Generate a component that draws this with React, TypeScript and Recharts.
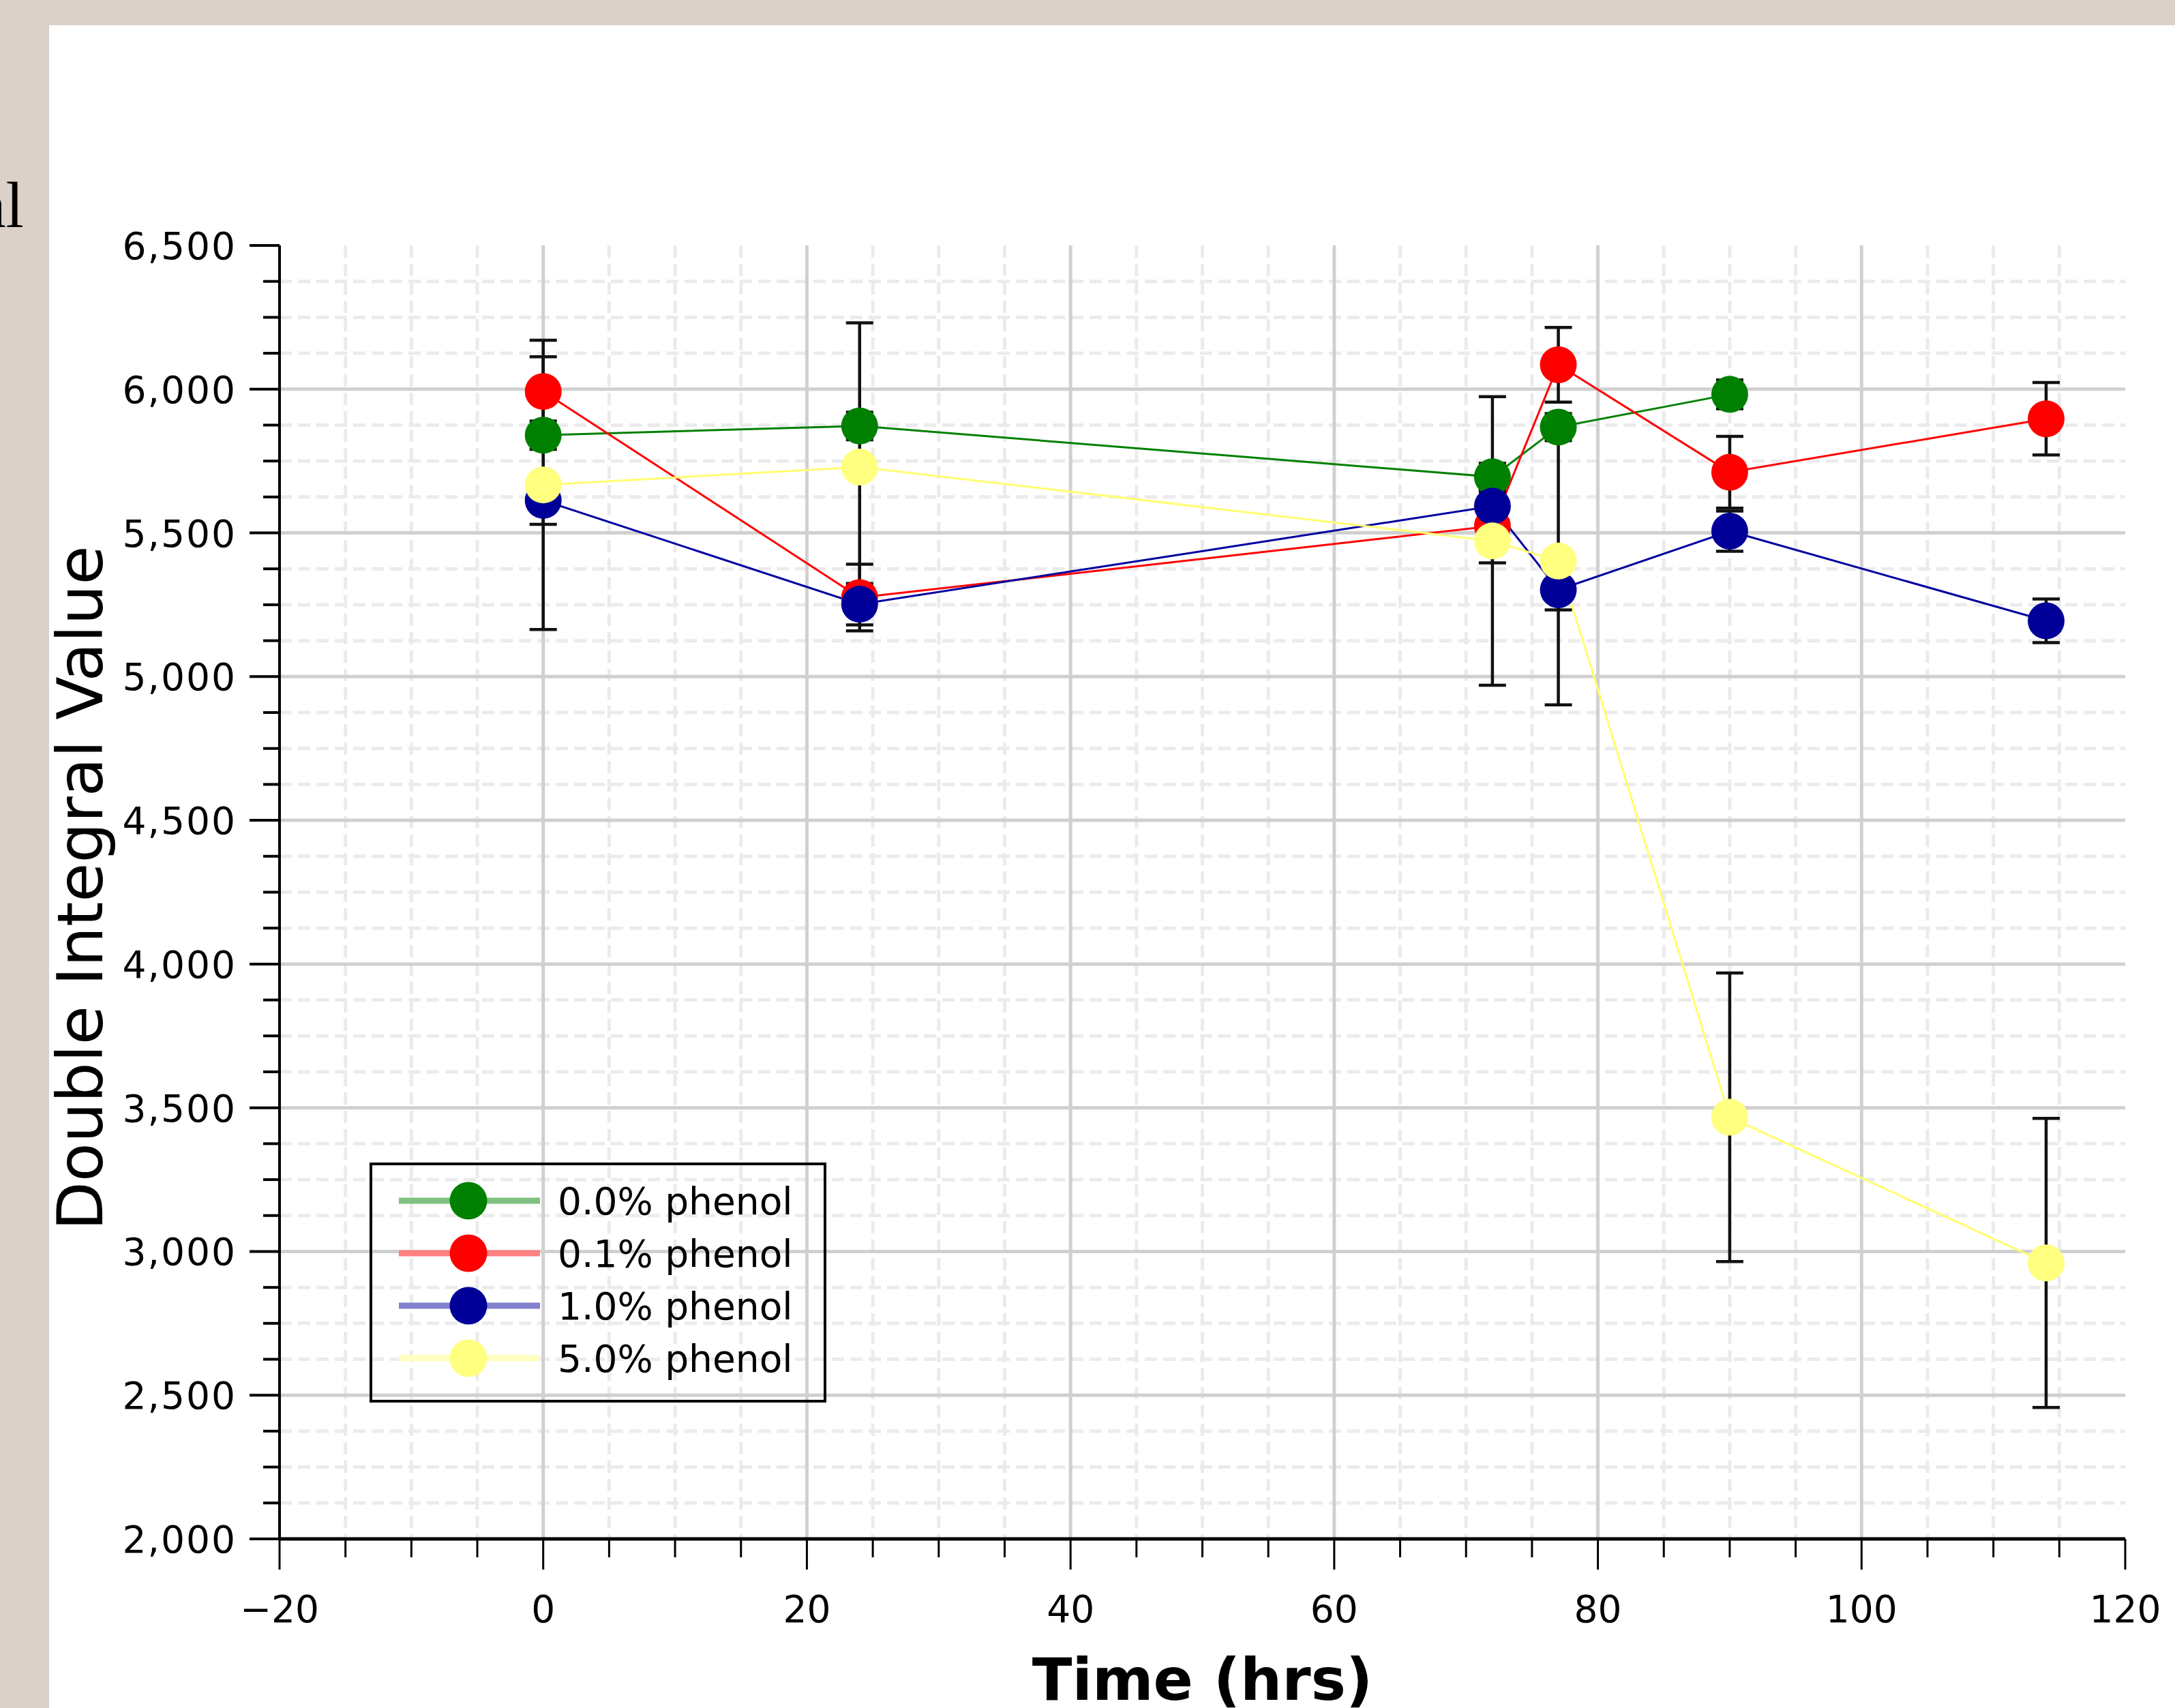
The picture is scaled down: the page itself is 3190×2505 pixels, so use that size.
import * as React from 'react';
import {
  LineChart,
  Line,
  XAxis,
  YAxis,
  CartesianGrid,
  ErrorBar,
  Legend
} from 'recharts';

// sampling times (hrs)
const hours = [0, 24, 72, 77, 90, 114];

// double integral values, one list per phenol level
const phenol00 = [5840, 5872, 5695, 5868, 5982];
const phenol01 = [5992, 5275, 5524, 6085, 5711, 5897];
const phenol10 = [5613, 5252, 5593, 5302, 5506, 5194];
const phenol50 = [5667, 5729, 5472, 5402, 3467, 2960];

// error bar half-lengths
const err00 = [49, 48, 47, 47, 50];
const err01 = [121, 116, 128, 130, 125, 126];
const err10 = [83, 72, 50, 70, 70, 76];
const err50 = [503, 502, 502, 500, 502, 503];

const seriesNames = ['0.0% phenol', '0.1% phenol', '1.0% phenol', '5.0% phenol'];

// axis ticks
const yMajor = [2000, 2500, 3000, 3500, 4000, 4500, 5000, 5500, 6000, 6500];
const yMinor = [
  2125, 2250, 2375, 2625, 2750, 2875, 3125, 3250, 3375, 3625, 3750, 3875,
  4125, 4250, 4375, 4625, 4750, 4875, 5125, 5250, 5375, 5625, 5750, 5875,
  6125, 6250, 6375
];
const xMajor = [-20, 0, 20, 40, 60, 80, 100, 120];
const xMinor = [
  -15, -10, -5, 5, 10, 15, 25, 30, 35, 45, 50, 55, 65, 70, 75, 85, 90, 95,
  105, 110, 115
];

const dotColors = ['#008000', '#ff0000', '#000099', '#ffff80'];
const lineColors = ['#008000', '#ff0000', '#0000a0', '#ffff70'];
const legendLineColors = ['#80c080', '#ff8080', '#8080cc', '#ffffc0'];

const FONT = '"DejaVu Sans", Verdana, sans-serif';

const build = (values: number[], errs: number[]) =>
  values.map((v, i) => ({ t: hours[i], v, e: errs[i] }));

const series = [
  build(phenol00, err00),
  build(phenol01, err01),
  build(phenol10, err10),
  build(phenol50, err50)
];

const sortNum = (a: number, b: number) => a - b;
const yTicks = [...yMajor, ...yMinor].sort(sortNum);
const xTicks = [...xMajor, ...xMinor].sort(sortNum);

const YTick = (props: any) => {
  const { x, y, payload } = props;
  const v = payload.value;
  const major = v % 500 === 0;
  return (
    <g>
      <line x1={x} x2={x - (major ? 44 : 24)} y1={y} y2={y} stroke="#000" strokeWidth={4} />
      {major && (
        <text
          x={x - 63}
          y={y + 20}
          textAnchor="end"
          fontFamily={FONT}
          fontSize={55}
          letterSpacing={2}
          fill="#000"
        >
          {v.toLocaleString('en-US')}
        </text>
      )}
    </g>
  );
};

const XTick = (props: any) => {
  const { x, y, payload } = props;
  const v = payload.value;
  const major = v % 20 === 0;
  return (
    <g>
      <line x1={x} x2={x} y1={y} y2={y + (major ? 45 : 27)} stroke="#000" strokeWidth={3} />
      {major && (
        <text
          x={x}
          y={y + 122}
          textAnchor="middle"
          fontFamily={FONT}
          fontSize={55}
          fill="#000"
        >
          {v < 0 ? `\u2212${-v}` : v}
        </text>
      )}
    </g>
  );
};

const XTitle = (props: any) => {
  const { x, y, width } = props.viewBox;
  return (
    <text
      x={x + width / 2}
      y={y + 236}
      textAnchor="middle"
      fontFamily={FONT}
      fontWeight="bold"
      fontSize={86}
      fill="#000"
    >
      Time (hrs)
    </text>
  );
};

const YTitle = (props: any) => {
  const { y, height } = props.viewBox;
  const cx = 150;
  const cy = y + height / 2 - 6;
  return (
    <text
      x={cx}
      y={cy}
      textAnchor="middle"
      transform={`rotate(-90 ${cx} ${cy})`}
      fontFamily={FONT}
      fontSize={93}
      fill="#000"
    >
      Double Integral Value
    </text>
  );
};

const LegendBox = () => (
  <svg width={670} height={352} style={{ display: 'block' }}>
    <rect x={2} y={2} width={666} height={348} fill="none" stroke="#000" strokeWidth={4} />
    {seriesNames.map((name, i) => {
      const cy = 56 + 77 * i;
      return (
        <g key={name}>
          <line x1={43} x2={250} y1={cy} y2={cy} stroke={legendLineColors[i]} strokeWidth={9} />
          <circle cx={145} cy={cy} r={27.5} fill={dotColors[i]} />
          <text x={276} y={cy + 20} fontFamily={FONT} fontSize={55} fill="#000">
            {name}
          </text>
        </g>
      );
    })}
  </svg>
);

export default function App() {
  return (
    <div
      style={{
        position: 'absolute',
        left: 0,
        top: 0,
        width: 3190,
        height: 2505,
        background: '#dbd1c8',
        overflow: 'hidden'
      }}
    >
      <div
        style={{
          position: 'absolute',
          left: 72,
          top: 37,
          right: 0,
          bottom: 0,
          background: '#ffffff'
        }}
      />
      <svg
        width={72}
        height={400}
        style={{ position: 'absolute', left: 0, top: 0 }}
      >
        <text
          x={35}
          y={333}
          textAnchor="end"
          fontFamily='"Liberation Serif", serif'
          fontSize={95}
          fill="#000"
        >
          al
        </text>
      </svg>
      <div style={{ position: 'absolute', left: 0, top: 0 }}>
        <LineChart
          width={3190}
          height={2505}
          margin={{ top: 360, right: 73, bottom: 0, left: 0 }}
        >
          <CartesianGrid
            horizontalValues={yMinor}
            verticalValues={xMinor}
            stroke="#ebebeb"
            strokeWidth={5}
            strokeDasharray="18 9"
          />
          <CartesianGrid
            horizontalValues={yMajor.filter(v => v > 2000 && v < 6500)}
            verticalValues={xMajor.filter(v => v > -20 && v < 120)}
            stroke="#d0d0d0"
            strokeWidth={5}
          />
          <XAxis
            type="number"
            dataKey="t"
            domain={[-20, 120]}
            ticks={xTicks}
            interval={0}
            height={248}
            tickSize={0}
            tickMargin={0}
            tickLine={false}
            tick={<XTick />}
            axisLine={{ stroke: '#000', strokeWidth: 5 }}
            label={{ content: XTitle }}
            allowDataOverflow
          />
          <YAxis
            type="number"
            domain={[2000, 6500]}
            ticks={yTicks}
            interval={0}
            width={410}
            tickSize={0}
            tickMargin={0}
            tickLine={false}
            tick={<YTick />}
            axisLine={{ stroke: '#000', strokeWidth: 4 }}
            label={{ content: YTitle }}
            allowDataOverflow
          />
          {series.map((data, i) => (
            <Line
              key={`s${i}`}
              data={data}
              dataKey="v"
              name={seriesNames[i]}
              type="linear"
              stroke={lineColors[i]}
              strokeWidth={3}
              dot={{ r: 27, fill: dotColors[i], stroke: 'none', strokeWidth: 0 }}
              activeDot={false}
              isAnimationActive={false}
            />
          ))}
          {series.map((data, i) => (
            <Line
              key={`e${i}`}
              data={data}
              dataKey="v"
              stroke="none"
              dot={false}
              activeDot={false}
              legendType="none"
              isAnimationActive={false}
            >
              <ErrorBar
                dataKey="e"
                direction="y"
                width={20}
                stroke="#111"
                strokeWidth={4.5}
                isAnimationActive={false}
              />
            </Line>
          ))}
          <Legend
            layout="vertical"
            align="center"
            verticalAlign="middle"
            wrapperStyle={{ left: 542, top: 1705, width: 670, height: 352 }}
            content={<LegendBox />}
          />
        </LineChart>
      </div>
    </div>
  );
}
